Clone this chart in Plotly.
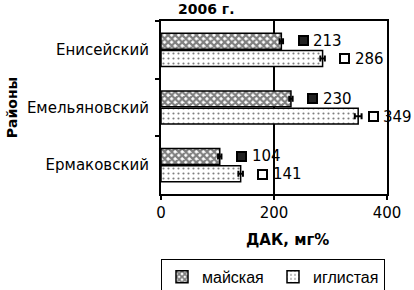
import plotly.graph_objects as go

districts = ["Енисейский", "Емельяновский", "Ермаковский"]
series_names = ["майская", "иглистая"]
maiskaya = [213, 230, 104]
iglistaya = [286, 349, 141]
err_maiskaya = [3, 3, 3]
err_iglistaya = [4, 6, 4]
x_ticks = [0, 200, 400]

FONT = "DejaVu Sans, Liberation Sans, Arial, sans-serif"
LEG_FONT = "Liberation Sans, Arial, sans-serif"

fig = go.Figure()
fig.add_trace(go.Bar(
    y=districts, x=maiskaya, orientation="h", name=series_names[0],
    marker=dict(color="white", line=dict(color="black", width=1.5),
                pattern=dict(shape="x", size=5, solidity=0.7, fgcolor="black", bgcolor="white")),
    error_x=dict(type="data", array=err_maiskaya, color="black", thickness=2, width=3),
))
fig.add_trace(go.Bar(
    y=districts, x=iglistaya, orientation="h", name=series_names[1],
    marker=dict(color="white", line=dict(color="black", width=1.5),
                pattern=dict(shape=".", size=5, solidity=0.15, fgcolor="black", bgcolor="white")),
    error_x=dict(type="data", array=err_iglistaya, color="black", thickness=2, width=3),
))

annotations = []
for vals, yshift, bg in [(maiskaya, 9, "#222"), (iglistaya, -9, "white")]:
    for d, v in zip(districts, vals):
        shift = 15 if v > 340 else 22
        annotations.append(dict(x=v, y=d, xref="x", yref="y", text="", showarrow=False,
                                width=5, height=5, bgcolor=bg, bordercolor="black", borderwidth=2,
                                xanchor="center", yanchor="middle", xshift=shift, yshift=yshift))
        annotations.append(dict(x=v, y=d, xref="x", yref="y", text=str(v), showarrow=False,
                                font=dict(size=15, color="black", family=FONT),
                                xanchor="left", yanchor="middle", xshift=shift + 8, yshift=yshift))

annotations.append(dict(x=0.2, y=1.0, xref="paper", yref="paper", yshift=12,
                        text="<b>2006 г.</b>", showarrow=False, font=dict(size=14, family=FONT, color="black"),
                        xanchor="center", yanchor="middle"))
annotations.append(dict(x=0.56, y=0, xref="paper", yref="paper", yshift=-46,
                        text="<b>ДАК, мг%</b>", showarrow=False, font=dict(size=15, family=FONT, color="black"),
                        xanchor="center", yanchor="middle"))

fig.update_layout(
    width=414, height=290,
    margin=dict(l=161, r=27, t=21, b=96, autoexpand=False),
    paper_bgcolor="white", plot_bgcolor="white",
    barmode="group", bargap=0.4, bargroupgap=0.08,
    font=dict(family=FONT, size=15, color="black"),
    showlegend=True,
    legend=dict(orientation="h", x=0.0, y=-0.375, xanchor="left", yanchor="top",
                bordercolor="black", borderwidth=1, font=dict(size=16, family=LEG_FONT),
                itemwidth=30, entrywidth=66),
    annotations=annotations,
)
fig.update_xaxes(range=[0, 400], tickvals=x_ticks, showgrid=True, gridcolor="black", gridwidth=2,
                 showline=True, linecolor="black", linewidth=2, mirror=True, automargin=False,
                 ticks="outside", ticklen=4, tickwidth=2, tickcolor="black", zeroline=False)
fig.update_yaxes(autorange="reversed", showline=True, linecolor="black", linewidth=2, mirror=True,
                 automargin=False, ticklabelstandoff=7,
                 ticks="outside", tickson="boundaries", ticklen=4, tickwidth=2, tickcolor="black",
                 showgrid=False,
                 title=dict(text="<b>Районы</b>", font=dict(size=14), standoff=6))

fig.write_html("out.html", config={"displayModeBar": False},
               post_script="document.body.style.margin='0';document.body.style.overflow='hidden';")
